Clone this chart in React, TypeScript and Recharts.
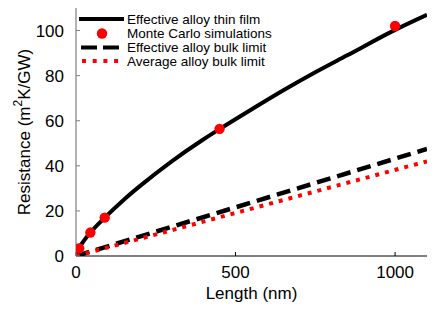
import React from "react";
import {
  ComposedChart,
  Line,
  Scatter,
  XAxis,
  YAxis,
} from "recharts";

const lengthsThinFilm = [0, 5, 10, 25, 45, 90, 150, 200, 300, 400, 450, 550, 650, 750, 850, 1000, 1100];
const resistThinFilm = [0, 2.2, 3.6, 6.8, 10.4, 17, 25, 31, 42, 51.8, 56.3, 65, 73.5, 81.5, 89, 100.3, 107];

const lengthsMC = [10, 45, 90, 450, 1000];
const resistMC = [3.4, 10.4, 17, 56.4, 102];

const lengthsBulk = [0, 1100];
const resistEffBulk = [0, 47.5];
const resistAvgBulk = [0, 42];

const xTicks = [0, 500, 1000];
const yTicks = [0, 20, 40, 60, 80, 100];

const legendLabels = [
  "Effective alloy thin film",
  "Monte Carlo simulations",
  "Effective alloy bulk limit",
  "Average alloy bulk limit",
];

const zip = (xs: number[], ys: number[]) => xs.map((x, i) => ({ x, y: ys[i] }));

const thinFilm = zip(lengthsThinFilm, resistThinFilm);
const mc = zip(lengthsMC, resistMC);
const effBulk = zip(lengthsBulk, resistEffBulk);
const avgBulk = zip(lengthsBulk, resistAvgBulk);

const FONT = "'Liberation Sans', Arial, sans-serif";
const FRAME = "#808080";

const Dot = (props: any) => {
  const { cx, cy } = props;
  if (cx == null || cy == null) return null;
  return <circle cx={cx} cy={cy} r={5.2} fill="#ff0000" />;
};

export default function App() {
  return (
    <div style={{ position: "absolute", left: 0, top: 0, width: 436, height: 310, background: "#fff" }}>
      <ComposedChart
        width={436}
        height={310}
        margin={{ top: 8, right: 9, bottom: 0, left: 0 }}
        style={{ fontFamily: FONT }}
      >
        <XAxis
          xAxisId={0}
          dataKey="x"
          type="number"
          domain={[0, 1100]}
          ticks={xTicks}
          allowDataOverflow
          tickSize={-4}
          tickMargin={14}
          stroke="#000"
          axisLine={{ stroke: "#000", strokeWidth: 1.2 }}
          tickLine={{ stroke: "#000" }}
          tick={{ fill: "#000", fontSize: 17, fontFamily: FONT }}
          height={54}
        />
        <XAxis
          xAxisId="top"
          orientation="top"
          type="number"
          domain={[0, 1100]}
          tick={false}
          tickLine={false}
          height={0}
          axisLine={{ stroke: FRAME, strokeWidth: 1.2 }}
        />
        <YAxis
          yAxisId={0}
          dataKey="y"
          type="number"
          domain={[0, 110]}
          ticks={yTicks}
          allowDataOverflow
          width={76}
          tickSize={-4}
          tickMargin={16}
          axisLine={{ stroke: FRAME, strokeWidth: 1.2 }}
          tickLine={{ stroke: FRAME }}
          tick={{ fill: "#000", fontSize: 17, fontFamily: FONT }}
        />
        <YAxis
          yAxisId="right"
          orientation="right"
          type="number"
          domain={[0, 110]}
          tick={false}
          tickLine={false}
          width={0}
          axisLine={{ stroke: FRAME, strokeWidth: 1.2 }}
        />
        <Line
          data={thinFilm}
          dataKey="y"
          type="monotone"
          stroke="#000"
          strokeWidth={4}
          dot={false}
          activeDot={false}
          isAnimationActive={false}
        />
        <Line
          data={effBulk}
          dataKey="y"
          type="linear"
          stroke="#000"
          strokeWidth={4.5}
          strokeDasharray="14 7"
          dot={false}
          activeDot={false}
          isAnimationActive={false}
        />
        <Line
          data={avgBulk}
          dataKey="y"
          type="linear"
          stroke="#ff0000"
          strokeWidth={4}
          strokeDasharray="4 6"
          dot={false}
          activeDot={false}
          isAnimationActive={false}
        />
        <Scatter
          data={mc}
          dataKey="y"
          fill="#ff0000"
          shape={<Dot />}
          isAnimationActive={false}
        />
      </ComposedChart>
      <svg
        width={436}
        height={310}
        style={{ position: "absolute", left: 0, top: 0, pointerEvents: "none", fontFamily: FONT }}
      >
        <text
          x={251.5}
          y={299}
          textAnchor="middle"
          fontSize={17}
          fill="#000"
        >
          Length (nm)
        </text>
        <text
          x={30}
          y={132}
          transform="rotate(-90 30 132)"
          textAnchor="middle"
          fontSize={17}
          fill="#000"
        >
          Resistance (m
          <tspan dy={-8} fontSize={12}>2</tspan>
          <tspan dy={8}>K/GW)</tspan>
        </text>
        {/* Legend */}
        <line x1={79} x2={124} y1={19} y2={19} stroke="#000" strokeWidth={4} />
        <circle cx={102} cy={33.5} r={5.2} fill="#ff0000" />
        <line x1={81} x2={119} y1={47.5} y2={47.5} stroke="#000" strokeWidth={4} strokeDasharray="16 6" />
        <line x1={82} x2={122} y1={61} y2={61} stroke="#ff0000" strokeWidth={4} strokeDasharray="4 6.7" />
        {legendLabels.map((t, i) => (
          <text key={t} x={127} y={24 + i * 14} fontSize={13.5} fill="#000">
            {t}
          </text>
        ))}
      </svg>
    </div>
  );
}
